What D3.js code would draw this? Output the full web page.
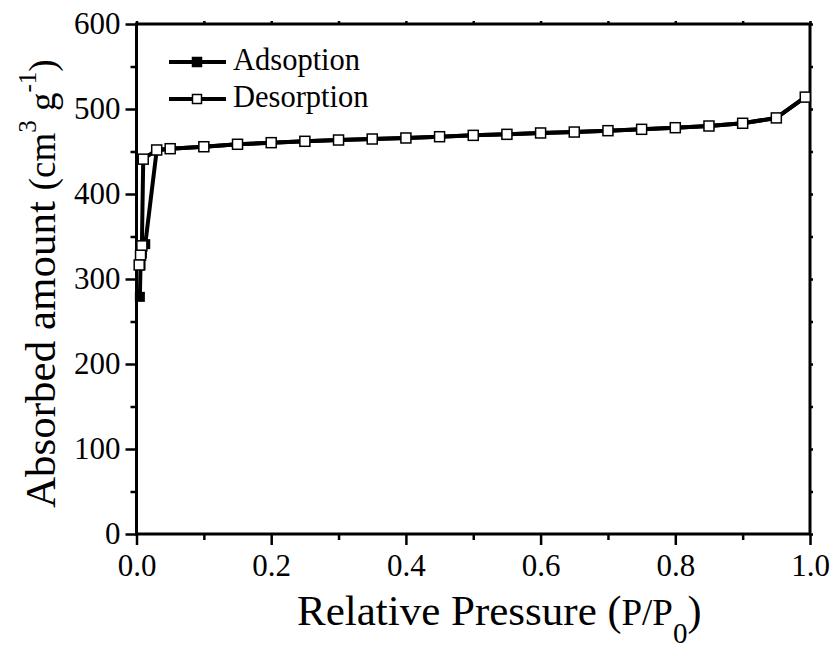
<!DOCTYPE html>
<html>
<head>
<meta charset="utf-8">
<script src="https://cdn.jsdelivr.net/npm/d3@7"></script>
<style>
  html, body { margin: 0; padding: 0; background: #fff; }
  svg { display: block; }
  text { font-family: "Liberation Serif", "Times New Roman", serif; fill: #000; }
</style>
</head>
<body>
<svg id="chart" width="836" height="650"></svg>
<script>
// Nitrogen isotherm: adsorption and desorption branches
const adsP = [0.005, 0.006, 0.008, 0.013, 0.03, 0.05, 0.1, 0.15, 0.2, 0.25, 0.3, 0.35, 0.4, 0.45, 0.5, 0.55, 0.6, 0.65, 0.7, 0.75, 0.8, 0.85, 0.9, 0.95, 0.993];
const adsV = [279, 316, 330, 341, 451.5, 453.3, 455.6, 458.5, 460.4, 462.0, 463.5, 464.7, 465.9, 467.4, 469.0, 470.2, 471.8, 472.9, 474.5, 476.1, 478.0, 480.0, 483.2, 489.5, 514];

const desP = [0.993, 0.95, 0.9, 0.85, 0.8, 0.75, 0.7, 0.65, 0.6, 0.55, 0.5, 0.45, 0.4, 0.35, 0.3, 0.25, 0.2, 0.15, 0.1, 0.05, 0.03, 0.01, 0.008, 0.006, 0.004];
const desV = [514, 489.5, 483.2, 480.0, 478.0, 476.1, 474.5, 472.9, 471.8, 470.2, 469.0, 467.4, 465.9, 464.7, 463.5, 462.0, 460.4, 458.5, 455.6, 453.3, 451.8, 441, 339, 328, 316.5];

const xMajor = [0, 0.2, 0.4, 0.6, 0.8, 1.0];
const xMinor = [0.1, 0.3, 0.5, 0.7, 0.9];
const yMajor = [0, 100, 200, 300, 400, 500, 600];
const yMinor = [50, 150, 250, 350, 450, 550];
const seriesNames = ["Adsoption", "Desorption"];

const svg = d3.select("#chart");
const L = 136.5, R = 810, T = 24, B = 534;

const x = d3.scaleLinear().domain([0, 1]).range([L, R]);
const y = d3.scaleLinear().domain([0, 600]).range([B, T]);

const AXW = 3;

// frame
svg.append("rect")
  .attr("x", L).attr("y", T).attr("width", R - L).attr("height", B - T)
  .attr("fill", "none").attr("stroke", "#000").attr("stroke-width", AXW);

function styleAxis(g) {
  g.select(".domain").remove();
  g.selectAll(".tick line").attr("stroke", "#000").attr("stroke-width", 2.5);
  g.selectAll("text").style("font-family", '"Liberation Serif", "Times New Roman", serif').style("font-size", "31px").attr("fill", "#000");
}

// bottom axis
svg.append("g").attr("transform", `translate(0,${B})`)
  .call(d3.axisBottom(x).tickValues(xMajor).tickSize(11).tickSizeOuter(0).tickFormat(d3.format(".1f")))
  .call(styleAxis)
  .call(g => g.selectAll("text").attr("y", 42).attr("dy", 0));
svg.append("g").attr("transform", `translate(0,${B})`)
  .call(d3.axisBottom(x).tickValues(xMinor).tickSize(6).tickSizeOuter(0).tickFormat(""))
  .call(styleAxis);

// left axis
svg.append("g").attr("transform", `translate(${L},0)`)
  .call(d3.axisLeft(y).tickValues(yMajor).tickSize(11).tickSizeOuter(0).tickPadding(5).tickFormat(d3.format("d")))
  .call(styleAxis)
  .call(g => g.selectAll("text").attr("x", -16).attr("dy", "0.32em"));
svg.append("g").attr("transform", `translate(${L},0)`)
  .call(d3.axisLeft(y).tickValues(yMinor).tickSize(6).tickSizeOuter(0).tickFormat(""))
  .call(styleAxis);

// top and right axes: short ticks only
svg.append("g").attr("transform", `translate(0,${T})`)
  .call(d3.axisTop(x).tickValues(xMajor.concat(xMinor)).tickSize(3).tickSizeOuter(0).tickFormat(""))
  .call(styleAxis);
svg.append("g").attr("transform", `translate(${R},0)`)
  .call(d3.axisRight(y).tickValues(yMajor.concat(yMinor)).tickSize(3).tickSizeOuter(0).tickFormat(""))
  .call(styleAxis);

const line = d3.line().x(d => x(d[0])).y(d => y(d[1]));
const ads = adsP.map((p, i) => [p, adsV[i]]);
const des = desP.map((p, i) => [p, desV[i]]);

const MS = 10;
// adsorption branch
svg.append("path").datum(ads).attr("d", line)
  .attr("fill", "none").attr("stroke", "#000").attr("stroke-width", 4).attr("stroke-linejoin", "round");
svg.append("g").selectAll("rect").data(ads).join("rect")
  .attr("x", d => x(d[0]) - MS / 2).attr("y", d => y(d[1]) - MS / 2)
  .attr("width", MS).attr("height", MS).attr("fill", "#000");

// desorption branch
svg.append("path").datum(des).attr("d", line)
  .attr("fill", "none").attr("stroke", "#000").attr("stroke-width", 4).attr("stroke-linejoin", "round");
svg.append("g").selectAll("rect").data(des).join("rect")
  .attr("x", d => x(d[0]) - MS / 2).attr("y", d => y(d[1]) - MS / 2)
  .attr("width", MS).attr("height", MS).attr("fill", "#fff").attr("stroke", "#000").attr("stroke-width", 1.5);

// legend
const legend = svg.append("g");
const legRows = [{ name: seriesNames[0], ly: 62, fill: "#000" }, { name: seriesNames[1], ly: 99, fill: "#fff" }];
legRows.forEach(r => {
  legend.append("line").attr("x1", 169).attr("x2", 226).attr("y1", r.ly).attr("y2", r.ly)
    .attr("stroke", "#000").attr("stroke-width", 4);
  legend.append("rect").attr("x", 197 - 4.5).attr("y", r.ly - 4.5).attr("width", 9).attr("height", 9)
    .attr("fill", r.fill).attr("stroke", "#000").attr("stroke-width", 1.5);
  legend.append("text").attr("x", 233).attr("y", r.ly + 7.5).style("font-size", "30.5px").text(r.name);
});

// x axis title
const xt = svg.append("text").attr("x", 297).attr("y", 625).style("font-size", "43px");
xt.append("tspan").text("Relative Pressure ");
xt.append("tspan").style("font-size", "42px").text("(");
xt.append("tspan").style("font-size", "37px").text("P/P");
xt.append("tspan").style("font-size", "29px").attr("dy", 18).text("0");
xt.append("tspan").style("font-size", "42px").attr("dy", -18).text(")");

// y axis title
const yt = svg.append("text").attr("transform", "translate(55,508) rotate(-90)").style("font-size", "43px");
yt.append("tspan").text("Absorbed amount ");
yt.append("tspan").style("font-size", "37px").text("(cm");
yt.append("tspan").style("font-size", "25px").attr("dy", -19).text("3");
yt.append("tspan").style("font-size", "37px").attr("dy", 19).text(" g");
yt.append("tspan").style("font-size", "25px").attr("dy", -19).text("-1");
yt.append("tspan").style("font-size", "37px").attr("dy", 19).text(")");
</script>
</body>
</html>
